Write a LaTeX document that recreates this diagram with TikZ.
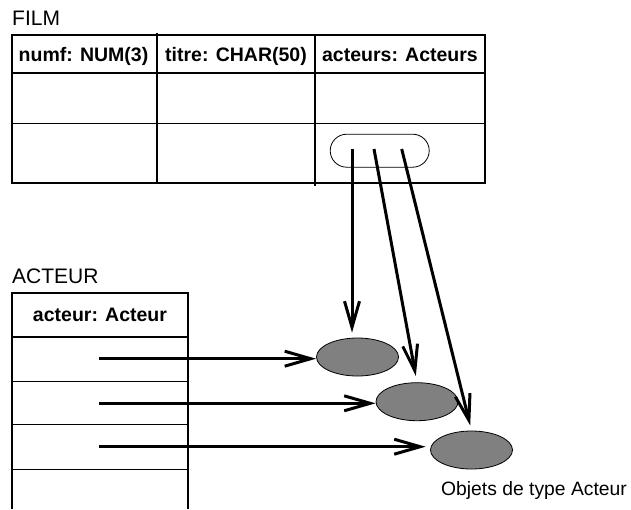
\documentclass[tikz,border=0pt]{standalone}
\usepackage{fontspec}
\setmainfont{Liberation Sans}
\usetikzlibrary{arrows.meta,shapes.geometric,positioning}

\begin{document}
\begin{tikzpicture}[x=1pt,y=-1pt,
    head/.style={font=\fontsize{19.5}{23}\selectfont\bfseries,inner sep=0pt,anchor=base},
    title/.style={font=\fontsize{21}{25}\selectfont,inner sep=0pt,anchor=base west},
    objet/.style={ellipse,draw,line width=0.8pt,fill={rgb,255:red,128;green,128;blue,128},
      minimum width=82pt,minimum height=38pt,inner sep=0pt},
    ref/.style={line width=3pt,-{Straight Barb[length=26pt,width=15pt]}}]
  \useasboundingbox (0,0) rectangle (631,509);

  % table FILM
  \node[title] (film) at (12,25) {FILM};
  \draw[line width=2pt] (12,35) rectangle (485,183);
  \draw[line width=2pt] (12,73) -- (485,73);
  \draw[line width=1pt] (12,123) -- (485,123);
  \draw[line width=2pt] (157,33) -- (157,183);
  \draw[line width=2pt] (315,35) -- (315,186);
  \node[head] (numf)    at (83.5,61.5) {numf: NUM(3)};
  \node[head] (titre)   at (236,61.5)  {titre: CHAR(50)};
  \node[head] (acteurs) at (400,61.5)  {acteurs: Acteurs};
  \node[draw,line width=0.8pt,rounded corners=16.5pt,minimum width=99pt,
    minimum height=33pt,inner sep=0pt] (ens) at (379.7,150.7) {};

  % table ACTEUR
  \node[title] (acteur) at (12,283) {ACTEUR};
  \draw[line width=2pt] (12,509) -- (12,292.7) -- (187.7,292.7) -- (187.7,509);
  \draw[line width=2pt] (12,337) -- (187.7,337);
  \foreach \y in {381,424.7,469}
    \draw[line width=1pt] (12,\y) -- (187.7,\y);
  \node[head] (attr) at (100,321.7) {acteur: Acteur};

  % objets
  \node[objet] (e_1) at (357.5,357)   {};
  \node[objet] (e_2) at (417,401.7)   {};
  \node[objet] (e_3) at (471.5,450)   {};
  \node[title,font=\fontsize{19.3}{23}\selectfont] (legende) at (441,495) {Objets de type Acteur};

  \coordinate (p_1) at (352,149);
  \coordinate (p_2) at (374,149);
  \coordinate (p_3) at (401.7,149);
  \coordinate (h_1) at (99,358.7);
  \coordinate (h_2) at (99,403.3);
  \coordinate (h_3) at (99,446.7);

  \draw[ref,shorten >=5pt]   (p_1) -- (p_1 |- e_1.north);
  \draw[ref,shorten >=6.5pt] (p_2) -- (e_2.north);
  \draw[ref,shorten >=5.3pt] (p_3) -- (e_3.north);
  \draw[ref] (h_1) -- (h_1 -| e_1.west);
  \draw[ref] (h_2) -- (h_2 -| e_2.west);
  \draw[ref,shorten >=4.5pt] (h_3) -- (h_3 -| e_3.west);
\end{tikzpicture}
\end{document}
